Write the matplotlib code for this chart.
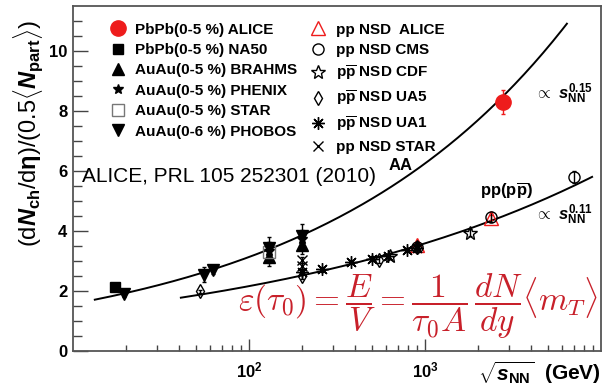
import numpy as np
import matplotlib
matplotlib.use('Agg')
import matplotlib.pyplot as plt
from matplotlib.lines import Line2D
from matplotlib.ticker import FixedLocator, NullFormatter, FixedFormatter

plt.rcParams['font.family'] = ['Liberation Sans', 'DejaVu Sans']
plt.rcParams['font.weight'] = 'bold'
plt.rcParams['mathtext.fontset'] = 'custom'
plt.rcParams['mathtext.rm'] = 'Liberation Sans:bold'
plt.rcParams['mathtext.bf'] = 'Liberation Sans:bold'
plt.rcParams['mathtext.it'] = 'Liberation Sans:italic:bold'
plt.rcParams['mathtext.sf'] = 'Liberation Sans:bold'

# ---- data ----
alice_pb_x = [2760]
alice_pb_y = [8.3]
alice_pb_err = [0.4]

na50_x = [17.3]
na50_y = [2.15]
na50_err = [0.1]

brahms_x = [130, 200]
brahms_y = [3.12, 3.55]
brahms_err = [0.3, 0.3]

phenix_x = [130, 200]
phenix_y = [3.35, 3.75]
phenix_err = [0.3, 0.3]

star_aa_x = [130]
star_aa_y = [3.3]
star_aa_err = [0.35]

phobos_x = [19.6, 55.8, 62.4, 130, 200]
phobos_y = [1.9, 2.55, 2.7, 3.45, 3.85]
phobos_err = [0.1, 0.25, 0.12, 0.35, 0.4]

alice_pp_x = [900, 2360]
alice_pp_y = [3.55, 4.45]
alice_pp_err = [0.1, 0.1]

cms_x = [900, 2360, 7000]
cms_y = [3.48, 4.47, 5.8]
cms_err = [0.13, 0.16, 0.2]

cdf_x = [630, 1800]
cdf_y = [3.18, 3.95]
cdf_err = [0.1, 0.12]

ua5_x = [53, 200, 546, 900]
ua5_y = [2.0, 2.5, 3.05, 3.48]
ua5_err = [0.05, 0.1, 0.1, 0.1]

ua1_x = [200, 260, 380, 500, 620, 790, 900]
ua1_y = [2.65, 2.72, 2.97, 3.08, 3.17, 3.37, 3.45]
ua1_err = [0.1, 0.08, 0.08, 0.08, 0.08, 0.08, 0.08]

star_pp_x = [200, 200]
star_pp_y = [3.05, 2.85]
star_pp_err = [0.1, 0.1]

# power law fits: dN/deta ~ a * sqrt(s)^(2*p)
aa_coef, aa_pow, aa_range = 0.787, 0.15, (13.3, 6400)
pp_coef, pp_pow, pp_range = 0.785, 0.11, (41, 8900)

RED = '#ee1c1c'
FORMULA_RED = '#c8202a'

fig = plt.figure(figsize=(6.04, 3.92), dpi=100)
ax = fig.add_axes([73 / 604, 41 / 392, 528 / 604, 345 / 392])

# fit curves
xs = np.logspace(np.log10(aa_range[0]), np.log10(aa_range[1]), 200)
ax.plot(xs, aa_coef * xs ** (2 * aa_pow), color='black', lw=1.4, zorder=2)
xs = np.logspace(np.log10(pp_range[0]), np.log10(pp_range[1]), 200)
ax.plot(xs, pp_coef * xs ** (2 * pp_pow), color='black', lw=1.4, zorder=2)

asterisk = (8, 2, 0)

series = [
    # x, y, err, marker, size, face, edge, label
    (alice_pb_x, alice_pb_y, alice_pb_err, 'o', 11, RED, RED, 'PbPb(0-5 %) ALICE'),
    (na50_x, na50_y, na50_err, 's', 7, 'black', 'black', 'PbPb(0-5 %) NA50'),
    (brahms_x, brahms_y, brahms_err, '^', 8, 'black', 'black', 'AuAu(0-5 %) BRAHMS'),
    (phenix_x, phenix_y, phenix_err, '*', 7, 'black', 'black', 'AuAu(0-5 %) PHENIX'),
    (star_aa_x, star_aa_y, star_aa_err, 's', 9, 'none', '#777777', 'AuAu(0-5 %) STAR'),
    (phobos_x, phobos_y, phobos_err, 'v', 9, 'black', 'black', 'AuAu(0-6 %) PHOBOS'),
    (alice_pp_x, alice_pp_y, alice_pp_err, '^', 10, 'none', RED, 'pp NSD  ALICE'),
    (cms_x, cms_y, cms_err, 'o', 8, 'none', 'black', 'pp NSD CMS'),
    (cdf_x, cdf_y, cdf_err, '*', 10, 'none', 'black', r'p$\overline{\mathrm{p}}$ NSD CDF'),
    (ua5_x, ua5_y, ua5_err, 'd', 7, 'none', 'black', r'p$\overline{\mathrm{p}}$ NSD UA5'),
    (ua1_x, ua1_y, ua1_err, asterisk, 9, 'black', 'black', r'p$\overline{\mathrm{p}}$ NSD UA1'),
    (star_pp_x, star_pp_y, star_pp_err, 'x', 7, 'black', 'black', 'pp NSD STAR'),
]

handles = []
for x, y, err, mk, ms, fc, ec, lab in series:
    ax.errorbar(x, y, yerr=err, fmt='none', ecolor=ec, elinewidth=1, capsize=1.5, zorder=3)
    ax.plot(x, y, ls='none', marker=mk, ms=ms, mfc=fc, mec=ec, mew=1.0, zorder=4)
    handles.append(Line2D([], [], ls='none', marker=mk, ms=ms, mfc=fc, mec=ec, mew=1.0, label=lab))

leg1 = ax.legend(handles=handles[:6], loc='upper left', bbox_to_anchor=(0.068, 0.952),
                 frameon=False, fontsize=11, borderpad=0, handlelength=1.2,
                 handletextpad=0.5, labelspacing=0.42, borderaxespad=0)
ax.add_artist(leg1)
ax.legend(handles=handles[6:], loc='upper left', bbox_to_anchor=(0.446, 0.952),
          frameon=False, fontsize=11, borderpad=0, handlelength=1.2,
          handletextpad=0.6, labelspacing=0.42, borderaxespad=0)

# axes
ax.set_xscale('log')
ax.set_xlim(10, 10000)
ax.set_ylim(0, 11.5)
ax.xaxis.set_major_locator(FixedLocator([100, 1000]))
ax.xaxis.set_major_formatter(FixedFormatter([r'$10^{2}$', r'$10^{3}$']))
minors = [m * d for d in (10, 100, 1000) for m in range(2, 10)]
ax.xaxis.set_minor_locator(FixedLocator(minors))
ax.xaxis.set_minor_formatter(NullFormatter())
ax.set_yticks([0, 2, 4, 6, 8, 10])
ax.set_yticks(np.arange(0, 11.5, 0.5), minor=True)
ax.tick_params(axis='both', which='both', direction='in', color='#444444',
               labelsize=12, top=False, right=False)
ax.tick_params(axis='y', which='major', length=11, width=1.0, pad=4)
ax.tick_params(axis='y', which='minor', length=6.5, width=1.0)
ax.tick_params(axis='x', which='major', length=8.5, width=1.0, pad=7)
ax.tick_params(axis='x', which='minor', length=4, width=1.0)
for sp in ax.spines.values():
    sp.set_color('#555555')
    sp.set_linewidth(1.3)

ax.set_ylabel(r'(d$N_{\mathrm{ch}}$/d$\mathrm{\eta}$)/(0.5$\langle N_{\mathrm{part}}\rangle$)',
              fontsize=17)
ax.yaxis.set_label_coords(-0.052, 0.63)
fig.text(0.995, 0.015, r'$\sqrt{s_{\mathrm{NN}}}$  (GeV)', ha='right', va='bottom', fontsize=15)

# annotations
ax.text(0.017, 0.49, 'ALICE, PRL 105 252301 (2010)', transform=ax.transAxes,
        fontsize=15, fontweight='normal', ha='left', va='baseline')
ax.text(0.597, 0.538, 'AA', transform=ax.transAxes, fontsize=12, ha='left', va='center')
ax.text(0.77, 0.465, r'pp(p$\overline{\mathrm{p}}$)', transform=ax.transAxes, fontsize=12,
        ha='left', va='center')
ax.text(0.875, 0.745, r'$\propto$ $s_{\mathrm{NN}}^{\mathrm{0.15}}$', transform=ax.transAxes,
        fontsize=12, ha='left', va='center')
ax.text(0.875, 0.395, r'$\propto$ $s_{\mathrm{NN}}^{\mathrm{0.11}}$', transform=ax.transAxes,
        fontsize=12, ha='left', va='center')

ax.text(0.994, 0.13,
        r'$\varepsilon(\tau_0) = \dfrac{E}{V} = \dfrac{1}{\tau_0 A}\,\dfrac{dN}{dy}\langle m_T\rangle$',
        transform=ax.transAxes, math_fontfamily='cm', color=FORMULA_RED, fontsize=24,
        ha='right', va='center', fontweight='normal')

fig.savefig('out.png', dpi=100)
